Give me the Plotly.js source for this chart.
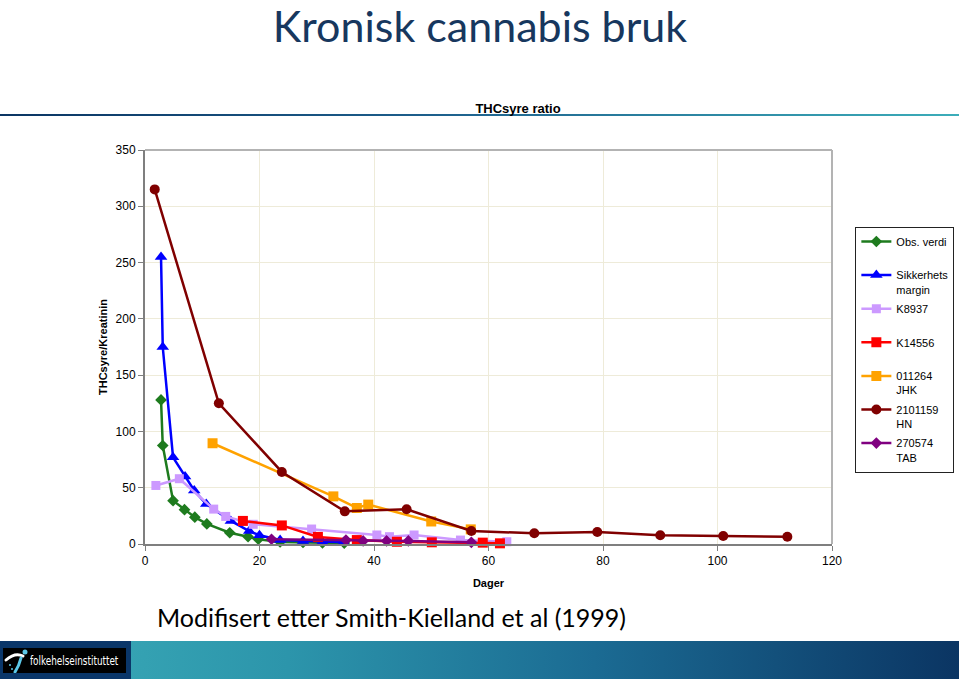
<!DOCTYPE html>
<html>
<head>
<meta charset="utf-8">
<script src="https://cdn.plot.ly/plotly-3.0.1.min.js"></script>
<style>
  html, body { margin:0; padding:0; background:#ffffff; }
  #wrap { position:relative; width:959px; height:679px; overflow:hidden; background:#fff; }
  #sep { position:absolute; left:0; top:114px; width:959px; height:2px;
         background:linear-gradient(to right, #0b3563 0%, #1d5f8c 45%, #3cadb9 100%); z-index:0; }
  #chart { position:absolute; left:0; top:0; width:959px; height:679px; z-index:1; }
  #bigtitle { position:absolute; left:0; top:0; width:960px; z-index:3;
              font-family: Lato, Carlito, sans-serif; font-size:43px; line-height:normal;
              color:#17375E; text-align:center; white-space:nowrap; }
  #footer { position:absolute; left:0; top:641px; width:959px; height:38px; z-index:2;
            background:linear-gradient(to right, #3cadb9 0%, #2c95ab 30%, #1b6b93 62%, #0b3563 100%); }
  #logoblock { position:absolute; left:0; top:0; width:131px; height:38px; background:#0a3669; }
  #logobox { position:absolute; left:3px; top:7px; width:123px; height:25px; background:#000; }
  #logotext { position:absolute; left:27px; top:5px; height:16px; line-height:16px;
              font-family:"Liberation Sans Narrow","DejaVu Sans Condensed",sans-serif; font-size:12px;
              color:#fff; white-space:nowrap; transform:scaleX(0.82); transform-origin:0 50%; }
</style>
</head>
<body>
<div id="wrap">
  <div id="sep"></div>
  <div id="chart"></div>
  <div id="bigtitle">Kronisk cannabis bruk</div>
  <div id="footer">
    <div id="logoblock">
      <div id="logobox">
        <svg width="26" height="25" xmlns="http://www.w3.org/2000/svg" style="position:absolute;left:0;top:0">
          <path d="M3 12 Q12 4 20 8" stroke="#ffffff" stroke-width="3" fill="none" stroke-linecap="round"/>
          <path d="M18 10 Q16 18 12 24" stroke="#5cc8e8" stroke-width="3" fill="none" stroke-linecap="round"/>
          <circle cx="22" cy="4" r="2.5" fill="#5cc8e8"/>
          <circle cx="7" cy="17" r="1" fill="#5cc8e8"/>
          <circle cx="9" cy="21" r="1" fill="#5cc8e8"/>
        </svg>
        <span id="logotext">folkehelseinstituttet</span>
      </div>
    </div>
  </div>
</div>
<script>
// ---- data ----
const seriesNames = ["Obs. verdi", "Sikkerhets<br>margin", "K8937", "K14556", "011264<br>JHK", "2101159<br>HN", "270574<br>TAB"];

const obsDays    = [2.8, 3.1, 4.9, 6.9, 8.7, 10.8, 14.8, 18.0, 19.8, 23.6, 27.6, 31.0, 34.8];
const obsValues  = [128, 87.5, 38.5, 30.5, 23.8, 17.8, 10, 6.5, 4.2, 1.8, 1.4, 1.0, 0.8];

const marginDays   = [2.8, 3.1, 4.9, 7.0, 8.6, 10.7, 15.0, 18.2, 20.0, 23.6, 27.6, 31.0, 34.7];
const marginValues = [255, 175, 77, 60, 47.5, 35.5, 20.5, 11.5, 7.8, 3.5, 2.7, 1.8, 1.5];

const k8937Days   = [1.9, 6.0, 12.0, 14.1, 18.9, 29.1, 40.5, 42.7, 47.0, 55.1, 63.2];
const k8937Values = [52, 58, 31, 24.5, 17.5, 13.3, 8, 6.5, 8, 3.5, 2];

const k14556Days   = [17.1, 23.9, 30.2, 37.0, 44.0, 50.1, 59.0, 62.0];
const k14556Values = [20.5, 16.5, 6.3, 3.5, 2.0, 1.5, 1.2, 0.6];

const jhkDays   = [11.8, 32.9, 37.0, 39.0, 50.0, 56.9];
const jhkValues = [89.5, 42.3, 32, 35, 20, 13];

const hnDays   = [1.7, 12.9, 23.9, 34.9, 45.7, 57.0, 68.0, 79.0, 90.0, 101.0, 112.2];
const hnValues = [315, 125, 64, 29, 30.8, 11.5, 9.5, 10.7, 7.7, 7.1, 6.5];

const tabDays   = [22.1, 35.1, 38.1, 42.2, 46.0, 57.0];
const tabValues = [4.2, 3.5, 2.7, 2.7, 2.7, 1.5];

const xTicks = [0, 20, 40, 60, 80, 100, 120];
const yTicks = [0, 50, 100, 150, 200, 250, 300, 350];

// ---- styling ----
const styles = [
  {color:"#1E7B1E", symbol:"diamond",     size:9},
  {color:"#0000FF", symbol:"triangle-up", size:11},
  {color:"#CC99FF", symbol:"square",      size:9},
  {color:"#FF0000", symbol:"square",      size:10},
  {color:"#FFA200", symbol:"square",      size:10},
  {color:"#800000", symbol:"circle",      size:10},
  {color:"#800080", symbol:"diamond",     size:9}
];
const xs = [obsDays, marginDays, k8937Days, k14556Days, jhkDays, hnDays, tabDays];
const ys = [obsValues, marginValues, k8937Values, k14556Values, jhkValues, hnValues, tabValues];

const traces = seriesNames.map((n, i) => ({
  type: "scatter",
  mode: "lines+markers",
  x: xs[i],
  y: ys[i],
  name: n.indexOf("<br>") >= 0 ? n : n + "<br>&nbsp;",
  legendgroup: "g" + i,
  line: {color: styles[i].color, width: 2.5},
  marker: {color: styles[i].color, symbol: styles[i].symbol, size: styles[i].size},
  cliponaxis: false
}));

const axisFont = {family: "Liberation Sans, Arial, sans-serif", size: 12, color: "#000"};

const layout = {
  width: 959, height: 679,
  margin: {l:145, r:127, t:150, b:135, autoexpand: false},
  paper_bgcolor: "rgba(0,0,0,0)",
  plot_bgcolor: "rgba(0,0,0,0)",
  showlegend: true,
  title: {
    text: "THCsyre ratio",
    font: {family: "Liberation Sans, Arial, sans-serif", size: 13, color: "#000", weight: "bold"},
    x: 518/959, xanchor: "center", xref: "container",
    y: 1 - 108/679, yanchor: "middle", yref: "container"
  },
  xaxis: {
    range: [0, 120], tickvals: xTicks, ticktext: xTicks.map(String),
    showgrid: true, gridcolor: "#EEEBD9", gridwidth: 1,
    zeroline: false, showline: true, linecolor: "#7f7f7f", linewidth: 2,
    ticks: "outside", ticklen: 5, tickcolor: "#7f7f7f",
    tickfont: axisFont, automargin: false,
    title: {text: "Dager", font: {family: "Liberation Sans, Arial, sans-serif", size: 11, color: "#000", weight: "bold"}, standoff: 12}
  },
  yaxis: {
    range: [0, 350], tickvals: yTicks, ticktext: yTicks.map(String),
    showgrid: true, gridcolor: "#EEEBD9", gridwidth: 1,
    zeroline: false, showline: true, linecolor: "#7f7f7f", linewidth: 2,
    ticks: "outside", ticklen: 5, tickcolor: "#7f7f7f",
    tickfont: axisFont, automargin: false,
    title: {text: "THCsyre/Kreatinin", font: {family: "Liberation Sans, Arial, sans-serif", size: 11, color: "#000", weight: "bold"}, standoff: 6}
  },
  legend: {
    x: 1.034, y: 0.805, xanchor: "left", yanchor: "top",
    bgcolor: "#ffffff", bordercolor: "#222", borderwidth: 1,
    font: {family: "Liberation Sans, Arial, sans-serif", size: 11, color: "#000"},
    valign: "top", tracegroupgap: 2, itemwidth: 30
  },
  shapes: [
    {type:"line", xref:"paper", yref:"paper", x0:0, x1:1, y0:1, y1:1, line:{color:"#b3b3b3", width:2}},
    {type:"line", xref:"paper", yref:"paper", x0:1, x1:1, y0:0, y1:1, line:{color:"#b3b3b3", width:2}}
  ],
  annotations: [
    {text: "Modifisert etter Smith-Kielland et al (1999)", xref: "paper", yref: "paper",
     x: (155-145)/687, y: (544-617)/394, xanchor: "left", yanchor: "middle", showarrow: false,
     font: {family: "Lato, Carlito, sans-serif", size: 25, color: "#000"}}
  ]
};

Plotly.newPlot("chart", traces, layout, {displayModeBar: false, staticPlot: true});
</script>
</body>
</html>
